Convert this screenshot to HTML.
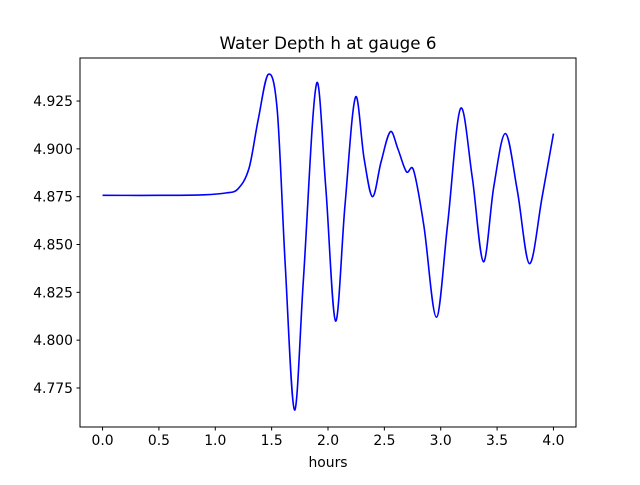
<!DOCTYPE html>
<html><head><meta charset="utf-8"><style>
body{margin:0;background:#fff}
svg text{font-family:"DejaVu Sans","Liberation Sans",sans-serif;fill:#000}
</style></head><body>
<svg id="chart" width="640" height="480" xmlns="http://www.w3.org/2000/svg">
<rect width="640" height="480" fill="#fff"/>
<text x="328" y="49" font-size="16.7" text-anchor="middle">Water Depth h at gauge 6</text>
<g id="ticks"></g>
<path id="line" fill="none" stroke="#0000ff" stroke-width="1.6"/>
<rect x="80" y="58" width="496" height="369" fill="none" stroke="#000" stroke-width="1"/>
<text x="328" y="467" font-size="13.9" text-anchor="middle">hours</text>
</svg>
<script>
const hours=[0,0.5,0.9,1.1,1.2,1.3,1.38,1.472,1.55,1.62,1.703,1.78,1.898,1.98,2.067,2.15,2.244,2.32,2.395,2.47,2.554,2.62,2.696,2.758,2.85,2.962,3.06,3.175,3.28,3.379,3.47,3.574,3.68,3.787,3.9,4.0];
const depth=[4.8757,4.8757,4.876,4.877,4.879,4.890,4.915,4.939,4.920,4.840,4.7635,4.830,4.934,4.880,4.810,4.870,4.927,4.895,4.875,4.893,4.909,4.900,4.888,4.889,4.860,4.812,4.860,4.921,4.885,4.841,4.880,4.908,4.878,4.840,4.875,4.908];
const xTicks=[0,0.5,1,1.5,2,2.5,3,3.5,4];
const xTickLabels=["0.0","0.5","1.0","1.5","2.0","2.5","3.0","3.5","4.0"];
const yTicks=[4.775,4.8,4.825,4.85,4.875,4.9,4.925];
const yTickLabels=["4.775","4.800","4.825","4.850","4.875","4.900","4.925"];
const X0=-0.2,X1=4.2,Y0=4.7546,Y1=4.9475;
const sx=v=>80+(v-X0)/(X1-X0)*496;
const sy=v=>427-(v-Y0)/(Y1-Y0)*369;
const NS="http://www.w3.org/2000/svg";
const g=document.getElementById('ticks');
function mk(t,a){const e=document.createElementNS(NS,t);for(const k in a)e.setAttribute(k,a[k]);g.appendChild(e);return e;}
xTicks.forEach((v,i)=>{
 const l=mk('line',{x1:sx(v),x2:sx(v),y1:427,y2:430.5,stroke:'#000'});
 
 
 const t=mk('text',{x:sx(v),y:445,'font-size':'13.9','text-anchor':'middle'});
 
 
 t.textContent=xTickLabels[i];
});
yTicks.forEach((v,i)=>{
 const l=mk('line',{x1:76.5,x2:80,y1:sy(v),y2:sy(v),stroke:'#000'});
 
 
 const t=mk('text',{x:73,y:sy(v)+5,'font-size':'13.9','text-anchor':'end'});
 
 
 t.textContent=yTickLabels[i];
});
const P=hours.map((h,i)=>[sx(h),sy(depth[i])]);
let d=`M${P[0][0]},${P[0][1]}`;
for(let i=0;i<P.length-1;i++){
 const p0=P[Math.max(i-1,0)],p1=P[i],p2=P[i+1],p3=P[Math.min(i+2,P.length-1)];
 const dx=p2[0]-p1[0];
 const m1=(p2[1]-p0[1])/(p2[0]-p0[0]||1), m2=(p3[1]-p1[1])/(p3[0]-p1[0]||1);
 d+=` C${p1[0]+dx/3},${p1[1]+m1*dx/3} ${p2[0]-dx/3},${p2[1]-m2*dx/3} ${p2[0]},${p2[1]}`;
}
document.getElementById('line').setAttribute('d',d);
</script>
</body></html>
